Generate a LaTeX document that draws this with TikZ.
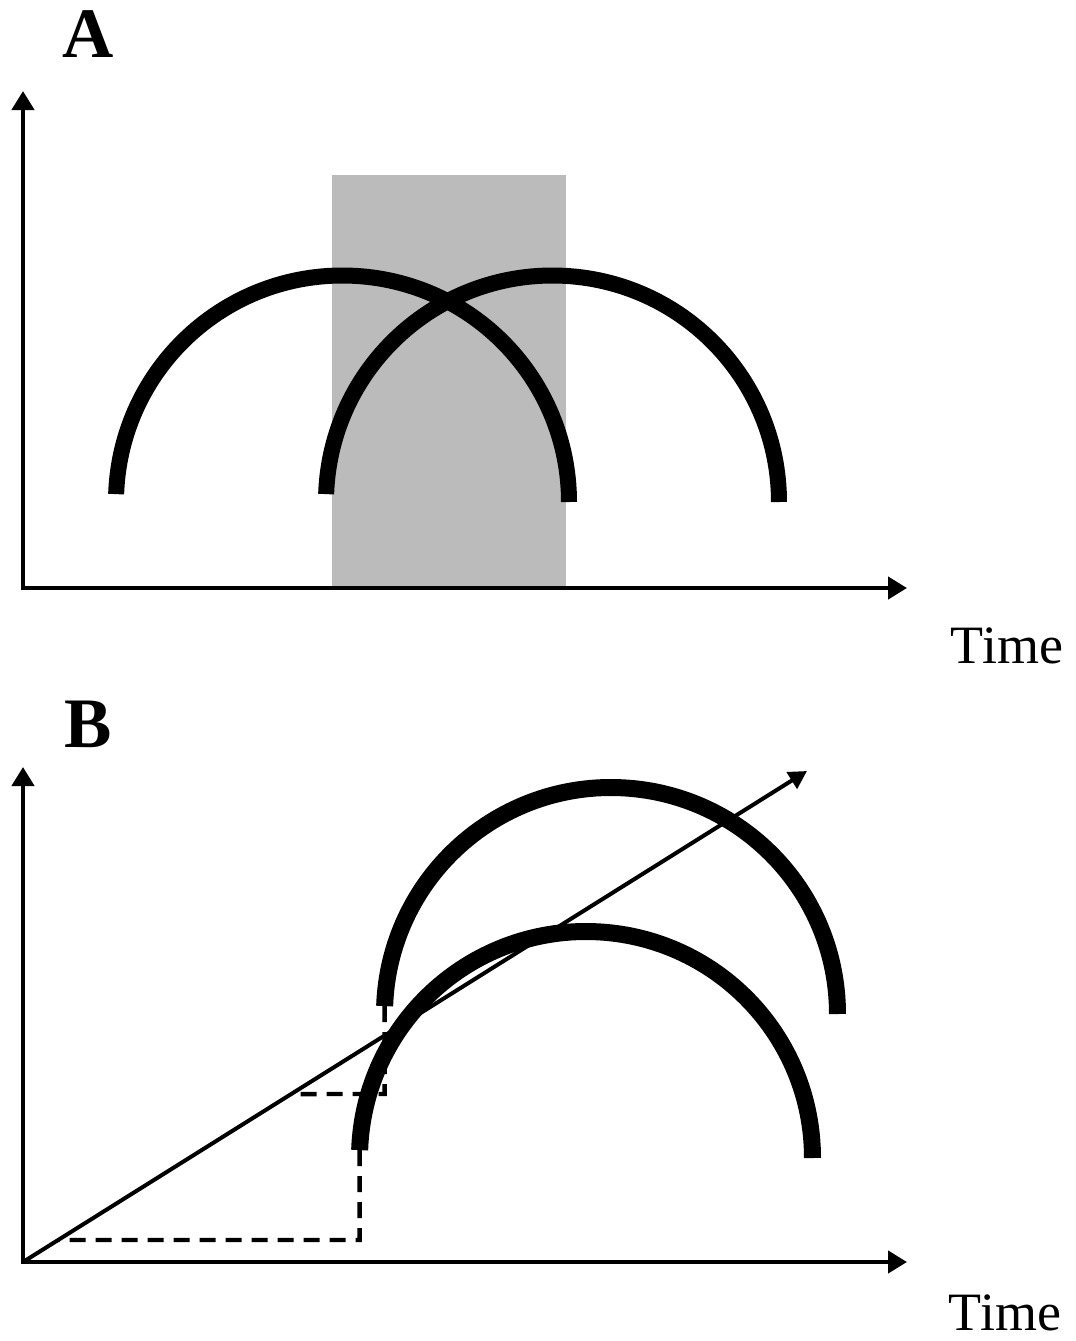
\documentclass[tikz,border=0pt]{standalone}
\usepackage{fontspec}
\setmainfont{Liberation Serif}
\usetikzlibrary{arrows.meta}
\definecolor{boxgrey}{RGB}{187,187,187}
\begin{document}
\begin{tikzpicture}[x=0.5pt,y=-0.5pt,
  axisline/.style={line width=2.2pt,line join=miter,
    {Triangle[length=9.5pt,width=11pt]}-{Triangle[length=9.5pt,width=11pt]}},
  diagline/.style={line width=2pt,-{Triangle[length=9pt,width=9.5pt]}},
  dashline/.style={line width=2.2pt,dash pattern=on 8pt off 5pt},
  arcline/.style={line width=8pt,line cap=butt},
  panellabel/.style={font=\fontsize{35.5}{40}\selectfont\bfseries,anchor=base,inner sep=0pt},
  timelabel/.style={font=\fontsize{27}{30}\selectfont,anchor=base,inner sep=0pt},
  humparc/.pic={
    \coordinate (-left) at (182:226.5);
    \coordinate (-right) at (0:226.5);
    \draw[arcline] (-left) arc[start angle=182,end angle=360,radius=226.5];
  }]
\useasboundingbox (0,0) rectangle (1076,1341);

% ---------- Panel A ----------
\node[panellabel] (labA) at (88,57) {A};
\fill[boxgrey] (332,175) rectangle (566,588);
\coordinate (Atop) at (23,91);
\coordinate (Aorig) at (23,588);
\coordinate (Aright) at (907,588);
\draw[axisline] (Atop) -- (Aorig) -- (Aright);
\pic (a1) at (342.5,502) {humparc};
\pic (a2) at (552.5,502) {humparc};
\node[timelabel] (timeA) at (1007,663) {Time};

% ---------- Panel B ----------
\node[panellabel] (labB) at (88,747) {B};
\coordinate (Btop) at (23,767);
\coordinate (O) at (23,1262);
\coordinate (Bright) at (907,1262);
\draw[axisline] (Btop) -- (O) -- (Bright);
\coordinate (D) at (807,771);
\draw[diagline] (O) -- (D);
\begin{scope}[arcline/.append style={line width=8.5pt}]
\pic (b1) at (611,1014) {humparc};
\pic (b2) at (586,1158) {humparc};
\end{scope}
\coordinate (k1) at (0,1094);
\coordinate (k2) at (0,1240);
\coordinate (c1) at (b1-left |- k1);
\coordinate (c2) at (b2-left |- k2);
\coordinate (h1) at (intersection of O--D and k1--c1);
\coordinate (h2) at (intersection of O--D and k2--c2);
\draw[dashline] (b1-left) -- (c1) -- (h1);
\draw[dashline] (b2-left) -- (c2) -- (h2);
\node[timelabel] (timeB) at (1005,1330) {Time};
\end{tikzpicture}
\end{document}
